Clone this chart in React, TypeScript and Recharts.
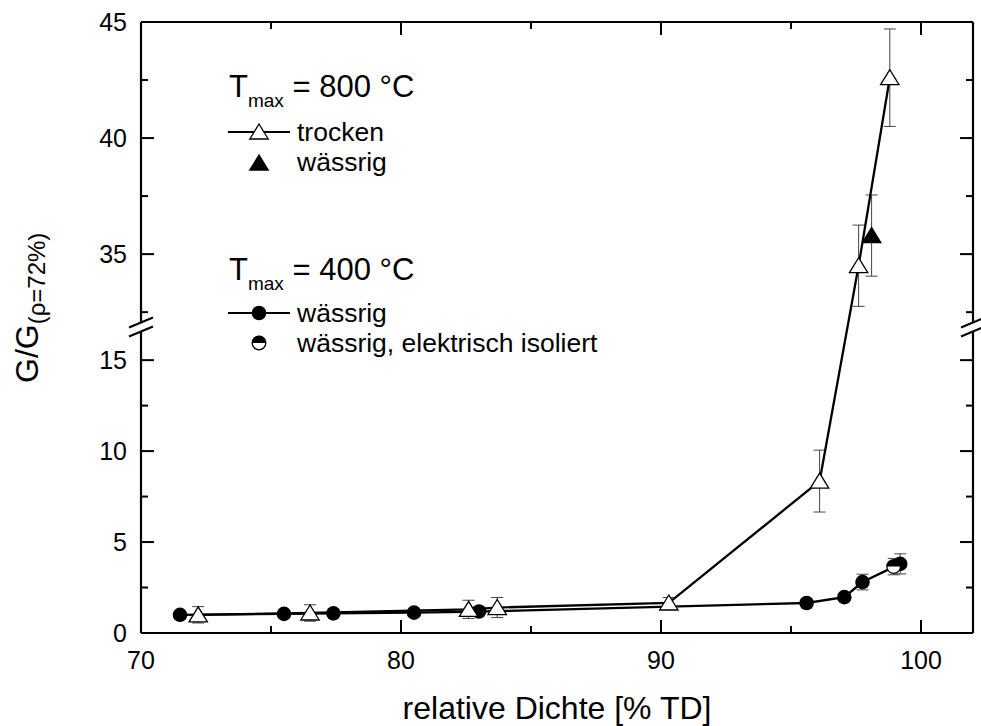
import React from 'react';
import { ScatterChart, Scatter, XAxis, YAxis, ErrorBar } from 'recharts';

const FONT = '"Liberation Sans", Arial, Helvetica, sans-serif';

// T_max = 800 °C, trocken
const trockenDichte = [72.2, 76.5, 82.6, 83.7, 90.3, 96.1, 97.6, 98.8];
const trockenG = [1.0, 1.1, 1.3, 1.4, 1.65, 8.35, 34.5, 42.6];
const trockenErr = [0.45, 0.45, 0.5, 0.55, 0.3, 1.7, 1.75, 2.1];

// T_max = 800 °C, wässrig
const w800Dichte = [98.1];
const w800G = [35.8];
const w800Err = [1.75];

// T_max = 400 °C, wässrig
const w400Dichte = [71.5, 75.5, 77.4, 80.5, 83.0, 95.6, 97.05, 97.75, 99.2];
const w400G = [1.0, 1.05, 1.08, 1.12, 1.18, 1.65, 1.97, 2.8, 3.8];
const w400Err = [0, 0, 0, 0, 0, 0, 0.15, 0.43, 0.55];

// T_max = 400 °C, wässrig, elektrisch isoliert
const isoDichte = [98.95];
const isoG = [3.65];
const isoErr = [0.45];

const xTicks = [70, 75, 80, 85, 90, 95, 100];
const xLabels = [70, 80, 90, 100];
const yTicks = [0, 2.5, 5, 7.5, 10, 12.5, 15, 32.5, 35, 37.5, 40, 42.5, 45];
const yLabels = [0, 5, 10, 15, 35, 40, 45];

// broken y axis: 0–17 below the gap, 32–45 above it (drawn a bit taller per unit)
const LOWER_TOP = 17;
const UPPER_BOTTOM = 32;
const UPPER_TOP = 45;
const UPPER_STRETCH = 1.276;

const toAxis = (v: number) =>
  v <= LOWER_TOP ? v : LOWER_TOP + (Math.max(v, UPPER_BOTTOM) - UPPER_BOTTOM) * UPPER_STRETCH;
const fromAxis = (a: number) =>
  a <= LOWER_TOP + 1e-6 ? a : UPPER_BOTTOM + (a - LOWER_TOP) / UPPER_STRETCH;

const buildRows = (xs: number[], ys: number[], errs: number[]) =>
  xs.map((x, i) => {
    const y = toAxis(ys[i]);
    return { x, y, err: [y - toAxis(ys[i] - errs[i]), toAxis(ys[i] + errs[i]) - y] };
  });

const trockenRows = buildRows(trockenDichte, trockenG, trockenErr);
const w800Rows = buildRows(w800Dichte, w800G, w800Err);
const w400Rows = buildRows(w400Dichte, w400G, w400Err);
const isoRows = buildRows(isoDichte, isoG, isoErr);

const X_DOMAIN: [number, number] = [70, 102];
const Y_DOMAIN: [number, number] = [0, toAxis(UPPER_TOP)];
const yAxisTicks = yTicks.map(toAxis);

const W = 981;
const H = 726;
const PLOT_LEFT = 141;
const PLOT_RIGHT = 973;
const PLOT_TOP = 22;
const PLOT_BOTTOM = 633;
const BREAK_Y = 327;

// markers
const OpenTriangle = ({ cx, cy }: any) => (
  <polygon
    points={`${cx},${cy - 8} ${cx - 9.2},${cy + 7} ${cx + 9.2},${cy + 7}`}
    fill="#fff"
    stroke="#000"
    strokeWidth={1.3}
  />
);
const FilledTriangle = ({ cx, cy }: any) => (
  <polygon
    points={`${cx},${cy - 8} ${cx - 9.2},${cy + 7} ${cx + 9.2},${cy + 7}`}
    fill="#000"
    stroke="#000"
    strokeWidth={1.3}
  />
);
const Dot = ({ cx, cy }: any) => <circle cx={cx} cy={cy} r={7.3} fill="#000" />;
const HalfDot = ({ cx, cy }: any) => (
  <g>
    <circle cx={cx} cy={cy} r={6.8} fill="#fff" stroke="#000" strokeWidth={1.3} />
    <path d={`M ${cx - 7.3} ${cy} A 7.3 7.3 0 0 1 ${cx + 7.3} ${cy} Z`} fill="#000" />
  </g>
);

// ticks point inwards, minor ticks are shorter
const BottomTick = ({ x, y, payload }: any) => {
  const v = payload.value as number;
  const major = xLabels.includes(v);
  return (
    <g>
      <line x1={x} x2={x} y1={y} y2={y - (major ? 13 : 7)} stroke="#000" strokeWidth={2} />
      {major && (
        <text x={x} y={y + 36} textAnchor="middle" fontSize={25} fontFamily={FONT} fill="#000">
          {v}
        </text>
      )}
    </g>
  );
};
const TopTick = ({ x, y, payload }: any) => {
  const major = xLabels.includes(payload.value);
  return <line x1={x} x2={x} y1={y} y2={y + (major ? 13 : 7)} stroke="#000" strokeWidth={2} />;
};
const LeftTick = ({ x, y, payload }: any) => {
  const v = Math.round(fromAxis(payload.value) * 100) / 100;
  const major = yLabels.includes(v);
  return (
    <g>
      <line x1={x} x2={x + (major ? 13 : 7)} y1={y} y2={y} stroke="#000" strokeWidth={2} />
      {major && (
        <text x={x - 14} y={y + 9} textAnchor="end" fontSize={25} fontFamily={FONT} fill="#000">
          {v}
        </text>
      )}
    </g>
  );
};
const RightTick = ({ x, y, payload }: any) => {
  const v = Math.round(fromAxis(payload.value) * 100) / 100;
  const major = yLabels.includes(v);
  return <line x1={x} x2={x - (major ? 13 : 7)} y1={y} y2={y} stroke="#000" strokeWidth={2} />;
};

const axisLine = { stroke: '#000', strokeWidth: 2.2 };
const seriesLine = { stroke: '#000', strokeWidth: 2.3 };
const errStyle = { stroke: '#444', strokeWidth: 1 };

const BreakMark = ({ x0 }: { x0: number }) => (
  <g>
    <rect x={x0 - 3} y={BREAK_Y - 4.5} width={6} height={9} fill="#fff" />
    <line x1={x0 - 12} y1={BREAK_Y + 0.5} x2={x0 + 12} y2={BREAK_Y - 9.5} stroke="#000" strokeWidth={2} />
    <line x1={x0 - 12} y1={BREAK_Y + 9.5} x2={x0 + 12} y2={BREAK_Y - 0.5} stroke="#000" strokeWidth={2} />
  </g>
);

const TmaxTitle = ({ y, value }: { y: number; value: string }) => (
  <text x={229} y={y} fontSize={31} fontFamily={FONT} fill="#000">
    T
    <tspan fontSize={19} dy={10}>
      max
    </tspan>
    <tspan fontSize={31} dy={-10}>
      {' = ' + value}
    </tspan>
  </text>
);

const LegendText = ({ y, children }: { y: number; children: React.ReactNode }) => (
  <text x={297} y={y} fontSize={26.5} fontFamily={FONT} fill="#000">
    {children}
  </text>
);

const Overlay = () => (
  <svg width={W} height={H} style={{ position: 'absolute', left: 0, top: 0, pointerEvents: 'none' }}>
    <BreakMark x0={PLOT_LEFT} />
    <BreakMark x0={PLOT_RIGHT} />

    <TmaxTitle y={97} value="800 °C" />
    <line x1={228} x2={290} y1={132} y2={132} stroke="#000" strokeWidth={2} />
    <OpenTriangle cx={259} cy={132} />
    <LegendText y={141}>trocken</LegendText>
    <FilledTriangle cx={259} cy={163} />
    <LegendText y={171}>wässrig</LegendText>

    <TmaxTitle y={280} value="400 °C" />
    <line x1={228} x2={290} y1={313} y2={313} stroke="#000" strokeWidth={2} />
    <Dot cx={259} cy={313} />
    <LegendText y={322}>wässrig</LegendText>
    <HalfDot cx={259} cy={343} />
    <LegendText y={352}>wässrig, elektrisch isoliert</LegendText>

    <text transform="translate(38, 383) rotate(-90)" fontSize={32} fontFamily={FONT} fill="#000">
      G/G
      <tspan fontSize={24} dy={7}>
        (ρ=72%)
      </tspan>
    </text>
  </svg>
);

export default function App() {
  return (
    <div style={{ position: 'absolute', left: 0, top: 0, width: W, height: H, background: '#fff' }}>
      <ScatterChart
        width={W}
        height={H}
        margin={{ top: PLOT_TOP - 1, right: W - PLOT_RIGHT - 1, bottom: 0, left: 0 }}
      >
        <XAxis
          xAxisId="bottom"
          type="number"
          dataKey="x"
          domain={X_DOMAIN}
          ticks={xTicks}
          interval={0}
          allowDataOverflow
          height={H - PLOT_BOTTOM}
          axisLine={axisLine}
          tickLine={false}
          tickSize={0}
          tickMargin={0}
          tick={<BottomTick />}
          label={{
            value: 'relative Dichte [% TD]',
            position: 'insideBottom',
            offset: 7,
            fontSize: 32,
            fontFamily: FONT,
            fill: '#000',
          }}
        />
        <XAxis
          xAxisId="top"
          orientation="top"
          type="number"
          dataKey="x"
          domain={X_DOMAIN}
          ticks={xTicks}
          interval={0}
          allowDataOverflow
          height={1}
          axisLine={axisLine}
          tickLine={false}
          tickSize={0}
          tickMargin={0}
          tick={<TopTick />}
        />
        <YAxis
          yAxisId="left"
          type="number"
          dataKey="y"
          domain={Y_DOMAIN}
          ticks={yAxisTicks}
          interval={0}
          allowDataOverflow
          width={PLOT_LEFT}
          axisLine={axisLine}
          tickLine={false}
          tickSize={0}
          tickMargin={0}
          tick={<LeftTick />}
        />
        <YAxis
          yAxisId="right"
          orientation="right"
          type="number"
          dataKey="y"
          domain={Y_DOMAIN}
          ticks={yAxisTicks}
          interval={0}
          allowDataOverflow
          width={1}
          axisLine={axisLine}
          tickLine={false}
          tickSize={0}
          tickMargin={0}
          tick={<RightTick />}
        />

        <Scatter
          xAxisId="bottom"
          yAxisId="left"
          data={w400Rows}
          line={seriesLine}
          lineType="joint"
          shape={Dot}
          isAnimationActive={false}
        >
          <ErrorBar dataKey="err" direction="y" width={6} {...errStyle} />
        </Scatter>
        <Scatter
          xAxisId="bottom"
          yAxisId="left"
          data={isoRows}
          shape={HalfDot}
          isAnimationActive={false}
        >
          <ErrorBar dataKey="err" direction="y" width={6} {...errStyle} />
        </Scatter>
        <Scatter
          xAxisId="bottom"
          yAxisId="left"
          data={trockenRows}
          line={seriesLine}
          lineType="joint"
          shape={OpenTriangle}
          isAnimationActive={false}
        >
          <ErrorBar dataKey="err" direction="y" width={6} {...errStyle} />
        </Scatter>
        <Scatter
          xAxisId="bottom"
          yAxisId="left"
          data={w800Rows}
          shape={FilledTriangle}
          isAnimationActive={false}
        >
          <ErrorBar dataKey="err" direction="y" width={6} {...errStyle} />
        </Scatter>
      </ScatterChart>
      <Overlay />
    </div>
  );
}
